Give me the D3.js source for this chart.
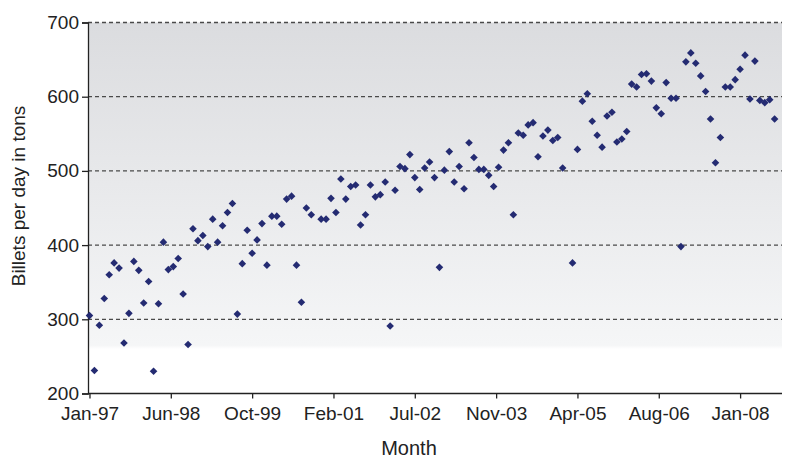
<!DOCTYPE html>
<html><head><meta charset="utf-8">
<script src="https://cdn.jsdelivr.net/npm/d3@7"></script>
<style>body{margin:0;background:#fff}</style>
</head><body>
<svg id="chart" width="785" height="460"></svg>
<script>
// Monthly billets per day (tons), Jan-97 .. Aug-08 (null = no point)
const values = [
 305,231,292,328,360,376,369,268,308,378,366,322,
 351,230,321,404,367,371,382,334,266,422,406,413,
 398,435,404,426,444,456,307,375,420,389,407,429,
 373,439,439,428,462,466,373,323,450,441,null,435,
 435,463,444,489,462,479,481,427,441,481,465,468,
 485,291,474,506,503,522,491,475,504,512,491,370,
 501,526,485,506,476,538,518,502,502,494,479,505,
 528,538,441,551,548,562,565,519,547,555,541,545,
 504,null,376,529,594,604,567,548,532,574,579,539,
 543,553,617,613,630,631,621,585,577,619,598,598,
 398,647,659,645,628,607,570,511,545,613,613,623,
 637,656,597,648,595,592,596,570
];
const tickLabels = ["Jan-97","Jun-98","Oct-99","Feb-01","Jul-02","Nov-03","Apr-05","Aug-06","Jan-08"];
const tickStep = 16.5; // months between labelled ticks
const yTicks = [200,300,400,500,600,700];
const yTitle = "Billets per day in tons";
const xTitle = "Month";

const FONT = "Liberation Sans, Arial, sans-serif";
const svg = d3.select("#chart");
const L = 88, R = 782, T = 22.5, B = 393.5;
const x = d3.scaleLinear().domain([-0.3, 140.5]).range([L, R]);
const y = d3.scaleLinear().domain([200, 700]).range([B, T]);

const defs = svg.append("defs");
const grad = defs.append("linearGradient").attr("id","bg").attr("x1",0).attr("y1",0).attr("x2",0).attr("y2",1);
grad.append("stop").attr("offset","0%").attr("stop-color","#dbdcdf");
grad.append("stop").attr("offset","87%").attr("stop-color","#f5f6f7");
grad.append("stop").attr("offset","88%").attr("stop-color","#ffffff");
grad.append("stop").attr("offset","100%").attr("stop-color","#ffffff");

svg.append("rect").attr("x",L).attr("y",T).attr("width",R-L).attr("height",B-T).attr("fill","url(#bg)");

// grid lines
svg.append("g").selectAll("line").data(yTicks.filter(d=>d>200)).join("line")
  .attr("x1",L).attr("x2",R).attr("y1",d=>y(d)).attr("y2",d=>y(d))
  .attr("stroke","#4a4a4a").attr("stroke-width",1.3).attr("stroke-dasharray","4,3");

// y axis
const yAxis = d3.axisLeft(y).tickValues(yTicks).tickSize(6).tickPadding(3).tickFormat(d3.format("d"));
const gy = svg.append("g").attr("transform",`translate(${L},0)`).call(yAxis);
gy.select(".domain").attr("stroke","#222").attr("stroke-width",1.3);
gy.selectAll(".tick line").attr("stroke","#222").attr("stroke-width",1.3);
gy.selectAll("text").attr("font-family",FONT).attr("font-size",19).attr("fill","#222");

// x axis
const xTickVals = tickLabels.map((d,i)=>i*tickStep);
const xAxis = d3.axisBottom(x).tickValues(xTickVals).tickSize(5).tickPadding(8)
  .tickFormat((d,i)=>tickLabels[i]);
const gx = svg.append("g").attr("transform",`translate(0,${B})`).call(xAxis);
gx.select(".domain").attr("d",`M${L},0H${R}`).attr("stroke","#222").attr("stroke-width",1.3);
gx.selectAll(".tick line").attr("stroke","#222").attr("stroke-width",1.3);
gx.selectAll("text").attr("font-family",FONT).attr("font-size",19).attr("fill","#222");

// points
const pts = values.map((v,i)=>({i, v})).filter(d=>d.v!==null);
const r = 3.8;
svg.append("g").selectAll("path").data(pts).join("path")
  .attr("transform",d=>`translate(${x(d.i)},${y(d.v)})`)
  .attr("d",`M0,${-r}L${r},0L0,${r}L${-r},0Z`)
  .attr("fill","#242b72");

// titles
svg.append("text").attr("transform",`translate(25,196) rotate(-90)`)
  .attr("text-anchor","middle").attr("font-family",FONT)
  .attr("font-size",19).attr("fill","#222").text(yTitle);
svg.append("text").attr("x",409).attr("y",455).attr("text-anchor","middle")
  .attr("font-family",FONT).attr("font-size",20).attr("fill","#222").text(xTitle);
</script>
</body></html>
